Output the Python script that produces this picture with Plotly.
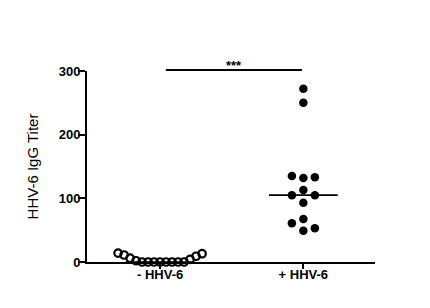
import numpy as np
import plotly.graph_objects as go

# ---- data ----
categories = ["- HHV-6", "+ HHV-6"]
neg_values = [0, 0, 0, 0, 0, 0, 0, 0, 2, 4, 6, 9, 11, 13, 14]
pos_values = [49, 53, 61, 67.5, 93, 105, 105, 113, 132, 133, 135, 250, 272]
y_ticks = [0, 100, 200, 300]
sig_text = "***"

FONT = "Arial, Liberation Sans, sans-serif"
# page body has an 8px margin, so the figure is drawn 8px smaller
W, H = 422, 300
M = dict(l=79, r=55, t=63, b=46)
YR = [0, 300]
XR = [-0.51, 1.5]
px_per_y = (H - M["t"] - M["b"]) / (YR[1] - YR[0])
px_per_x = (W - M["l"] - M["r"]) / (XR[1] - XR[0])


def swarm_offsets(vals, col_px=11.5, coll_px=10.0, max_half_px=42.0):
    """Column-based beeswarm (center, +1, -1, +2, -2 ...) in pixel space."""
    order = np.argsort(vals, kind="stable")
    cols = {}
    placed = []
    seq = [0]
    for k in range(1, 60):
        seq += [k, -k]
    for i in order:
        y = vals[i] * px_per_y
        for c in seq:
            if all(abs(y - py) >= coll_px for (pc, py) in placed if pc == c):
                placed.append((c, y))
                cols[i] = c
                break
    maxc = max(abs(c) for c in cols.values()) or 1
    step = min(col_px, max_half_px / maxc)
    return np.array([cols[i] * step / px_per_x for i in range(len(vals))])


def xp(x):
    return (x - XR[0]) / (XR[1] - XR[0])


def yp(y):
    return (y - YR[0]) / (YR[1] - YR[0])


fig = go.Figure()

neg_x = 0 + swarm_offsets(neg_values)
pos_x = 1 + swarm_offsets(pos_values)

fig.add_trace(go.Scatter(
    x=neg_x, y=neg_values, mode="markers", cliponaxis=False,
    marker=dict(symbol="circle-open", size=7.5, color="black",
                line=dict(color="black", width=2.2)),
    showlegend=False))
fig.add_trace(go.Scatter(
    x=pos_x, y=pos_values, mode="markers", cliponaxis=False,
    marker=dict(symbol="circle", size=8.5, color="black"),
    showlegend=False))

# median lines
for ci, vals in enumerate([neg_values, pos_values]):
    med = float(np.median(vals))
    fig.add_trace(go.Scatter(
        x=[ci - 0.24, ci + 0.24], y=[med, med], mode="lines",
        cliponaxis=False, line=dict(color="black", width=1.6),
        showlegend=False, hoverinfo="skip"))

# significance bracket (paper coords so it is not clipped)
sig_y = max(pos_values + neg_values) * 1.108
fig.add_shape(type="line", xref="paper", yref="paper",
              x0=xp(0.04), x1=xp(0.99), y0=yp(sig_y), y1=yp(sig_y),
              line=dict(color="black", width=2))
fig.add_annotation(xref="paper", yref="paper", x=xp(0.515), y=yp(sig_y),
                   text=f"<b>{sig_text}</b>", showarrow=False,
                   xanchor="center", yanchor="bottom", yshift=-5,
                   font=dict(family=FONT, size=13, color="black"))

fig.update_layout(
    width=W, height=H, margin=M,
    paper_bgcolor="white", plot_bgcolor="white",
    font=dict(family=FONT, color="black"),
    xaxis=dict(range=XR, tickmode="array", tickvals=[0, 1],
               ticktext=[f"<b>{c}</b>" for c in categories],
               showline=True, linecolor="black", linewidth=2,
               ticks="outside", ticklen=5, tickwidth=1.5, tickcolor="black",
               ticklabelstandoff=-6,
               showgrid=False, zeroline=False,
               tickfont=dict(family=FONT, size=13, color="black")),
    yaxis=dict(range=YR, tickmode="array", tickvals=y_ticks,
               ticktext=[f"<b>{t}</b>" for t in y_ticks],
               showline=True, linecolor="black", linewidth=2,
               ticks="outside", ticklen=7, tickwidth=2, tickcolor="black",
               ticklabelstandoff=-5,
               showgrid=False, zeroline=False,
               tickfont=dict(family=FONT, size=13, color="black"),
               title=dict(text="HHV-6 IgG Titer", standoff=16,
                          font=dict(family=FONT, size=15, color="black"))),
)

fig.write_html("out.html")
